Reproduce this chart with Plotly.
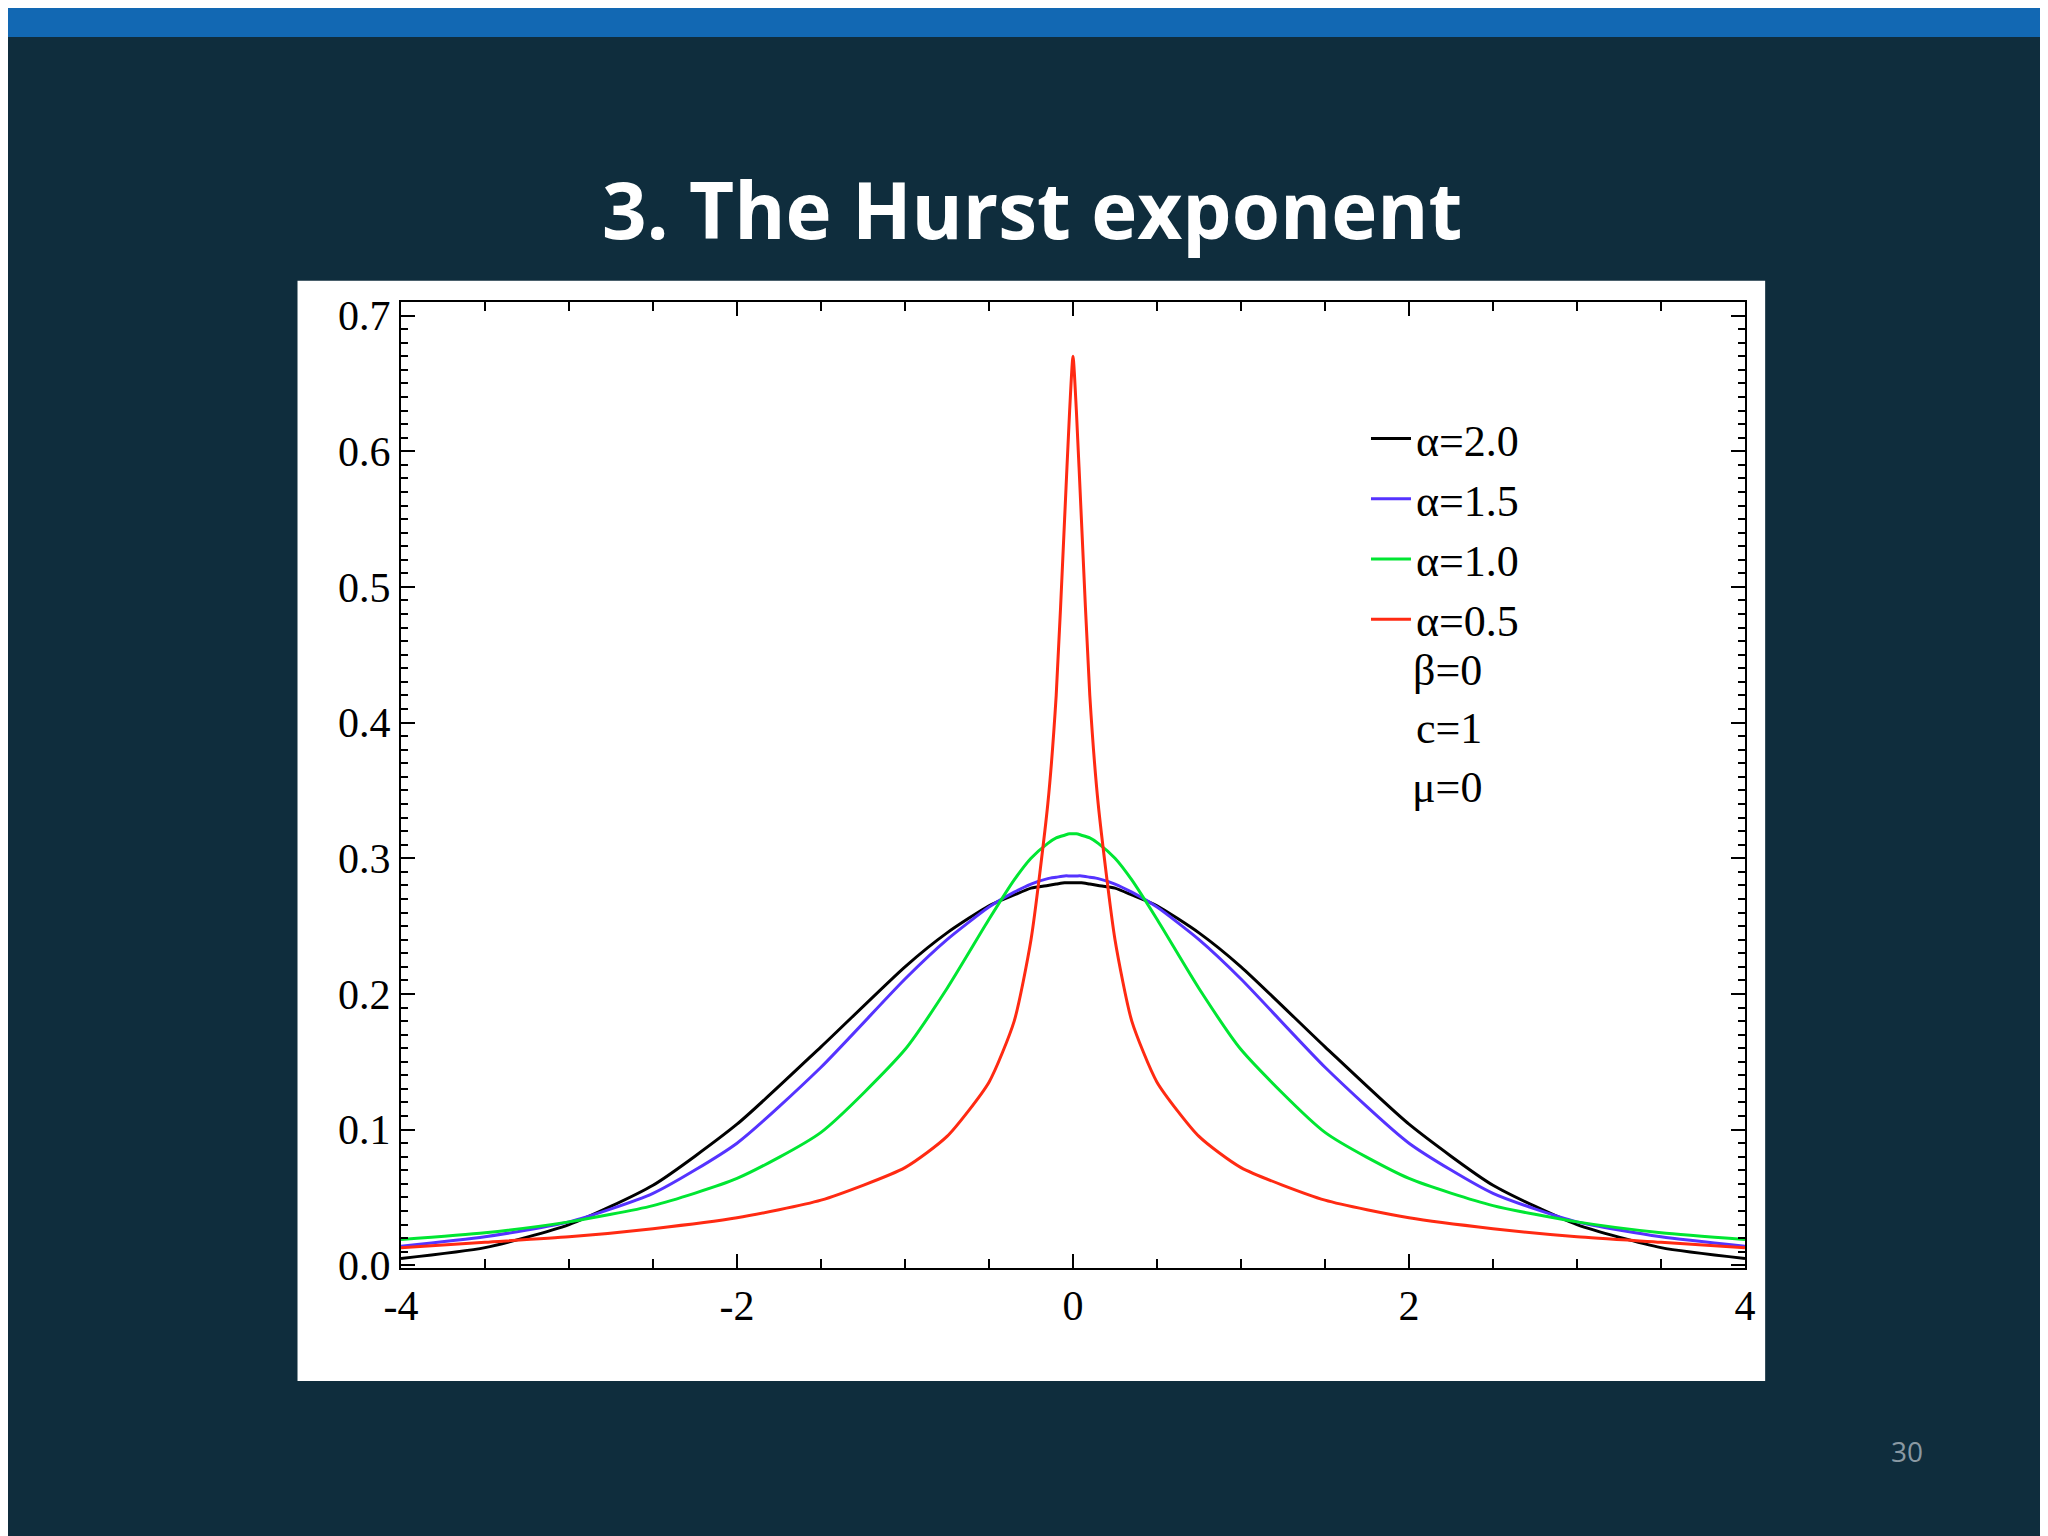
import plotly.graph_objects as go

x_half = [0, 0.02, 0.05, 0.1, 0.15, 0.25, 0.35, 0.5, 0.75, 1, 1.5, 2, 2.5, 3, 3.5, 4]
black_half = [0.282, 0.282, 0.282, 0.281, 0.280, 0.278, 0.273, 0.265, 0.245, 0.220, 0.161, 0.104, 0.059, 0.030, 0.013, 0.005]
blue_half = [0.287, 0.287, 0.287, 0.286, 0.285, 0.281, 0.275, 0.264, 0.240, 0.211, 0.146, 0.090, 0.053, 0.032, 0.021, 0.014]
green_half = [0.318, 0.318, 0.317, 0.315, 0.311, 0.300, 0.284, 0.255, 0.204, 0.159, 0.098, 0.064, 0.044, 0.032, 0.024, 0.019]
red_half = [0.67, 0.63, 0.55, 0.42, 0.34, 0.24, 0.18, 0.135, 0.095, 0.072, 0.048, 0.035, 0.027, 0.021, 0.017, 0.013]

def mirror(v):
    return v[:0:-1] + v

xs = [-a for a in x_half[:0:-1]] + x_half
series = [("α=2.0", black_half, "#000000"), ("α=1.5", blue_half, "#5533ff"),
          ("α=1.0", green_half, "#00e632"), ("α=0.5", red_half, "#ff2a12")]

fig = go.Figure()
for name, vals, col in series:
    fig.add_trace(go.Scatter(x=xs, y=mirror(vals), mode="lines", name=name,
                             line=dict(color=col, width=3, shape="spline", smoothing=0.6)))

serif = "Liberation Serif"
axis_common = dict(showline=True, linecolor="black", linewidth=2, mirror="ticks",
                   ticks="inside", ticklen=14, tickwidth=2, tickcolor="black",
                   showgrid=False, zeroline=False,
                   tickfont=dict(family=serif, size=42, color="black"))
fig.update_xaxes(range=[-4, 4], tickvals=[-4, -2, 0, 2, 4], ticktext=["-4", "-2", "0", "2", "4"],
                 minor=dict(dtick=0.5, ticks="inside", ticklen=9, tickwidth=2, tickcolor="black"),
                 **axis_common)
fig.update_yaxes(range=[-0.002, 0.71], dtick=0.1, tickformat=".1f",
                 minor=dict(dtick=0.01, ticks="inside", ticklen=7, tickwidth=1.5, tickcolor="black"),
                 **axis_common)

fig.update_layout(
    width=2048, height=1536, paper_bgcolor="#0f2d3d", plot_bgcolor="white",
    margin=dict(l=393, r=2048 - 1737, t=294, b=1536 - 1260),
    showlegend=True,
    legend=dict(x=0.718, y=0.895, xanchor="left", yanchor="top", bgcolor="rgba(0,0,0,0)",
                font=dict(family=serif, size=44, color="black"), itemwidth=40, tracegroupgap=0),
    shapes=[
        dict(type="rect", xref="paper", yref="paper", x0=-0.077, x1=1.015, y0=-0.117, y1=1.022,
             fillcolor="white", line=dict(width=0), layer="below"),
        dict(type="rect", xref="paper", yref="paper", x0=-0.3, x1=1.3, y0=1.0 + (294 - 29) / 966 * 0 + 1.305, y1=1.4,
             fillcolor="#1268b3", line=dict(width=0)),
    ],
)
# top bar via pixel-precise paper coords
fig.layout.shapes[1].update(y0=(1260 - 29) / 966, y1=(1260) / 966 + 0.1, x0=-393 / 1344, x1=(2048 - 393) / 1344)

for txt, yy in [("β=0", 0.619), ("c=1", 0.558), ("μ=0", 0.497)]:
    fig.add_annotation(text=txt, x=0.806, y=yy, xref="paper", yref="paper", showarrow=False,
                       font=dict(family=serif, size=44, color="black"))
fig.add_annotation(text="<b>3. The Hurst exponent</b>", x=0.5, y=146, xref="paper", yref="paper",
                   showarrow=False, font=dict(family="Open Sans", size=78, color="white"))
fig.layout.annotations[-1].update(x=(1024 - 393) / 1344, y=(1260 - 146) / 966)
fig.add_annotation(text="30", x=(1917 - 393) / 1344, y=(1260 - 1464) / 966, xref="paper", yref="paper",
                   showarrow=False, font=dict(family="Open Sans", size=28, color="#8a99a3"))

fig.write_html("out.html")
